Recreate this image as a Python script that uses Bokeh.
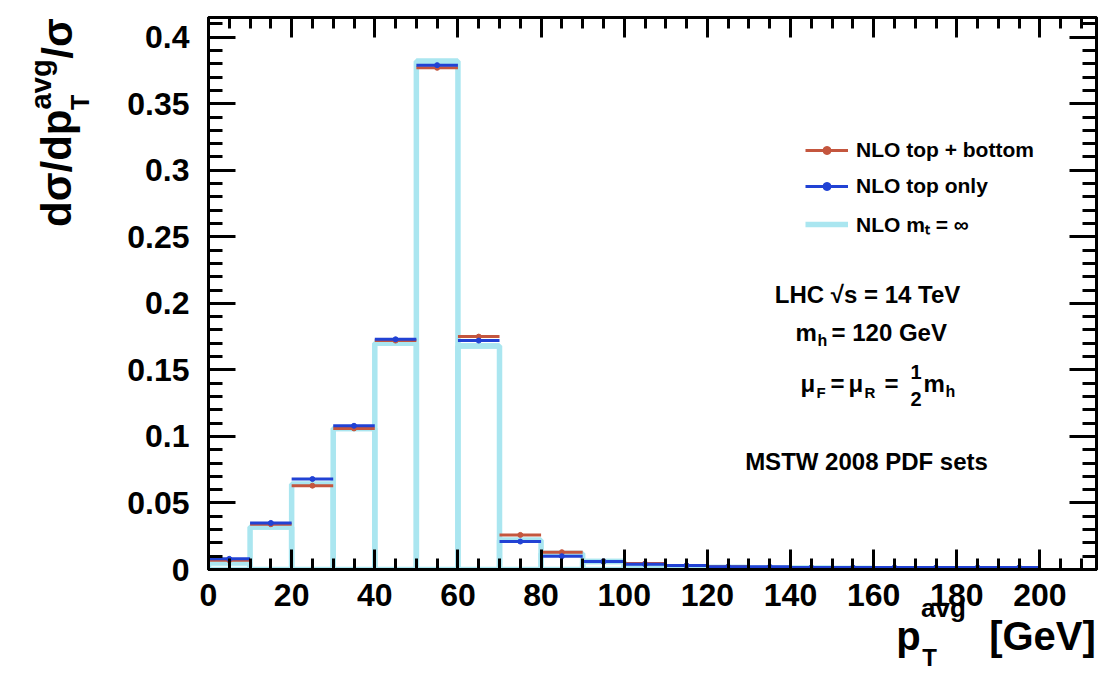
from bokeh.plotting import figure
from bokeh.models import (ColumnDataSource, LinearAxis, Range1d, SingleIntervalTicker, FixedTicker,
                          CustomJSTickFormatter, Label, Legend, LegendItem)
from bokeh.embed import file_html
from bokeh.resources import INLINE

# ---------------- data ----------------
bin_lo = [0, 10, 20, 30, 40, 50, 60, 70, 80, 90, 100, 110, 120, 130, 140, 150, 160, 170, 180, 190]
bin_hi = [10, 20, 30, 40, 50, 60, 70, 80, 90, 100, 110, 120, 130, 140, 150, 160, 170, 180, 190, 200]
nlo_top_bottom = [0.007, 0.034, 0.063, 0.106, 0.172, 0.377, 0.175, 0.026, 0.013, 0.006,
                  0.0045, 0.003, 0.002, 0.0015, 0.0012, 0.001, 0.001, 0.001, 0.001, 0.001]
nlo_top_only = [0.008, 0.035, 0.068, 0.108, 0.173, 0.379, 0.172, 0.021, 0.010, 0.006,
                0.004, 0.003, 0.002, 0.002, 0.0015, 0.0015, 0.0015, 0.0015, 0.0015, 0.0015]
nlo_mt_inf = [0.005, 0.032, 0.064, 0.106, 0.170, 0.382, 0.168, 0.022, 0.012, 0.006,
              0.003, 0.002, 0.0015, 0.001, 0.001, 0.0008, 0.0006, 0.0005, 0.0004, 0.0003]
bin_mid = [(a + b) / 2 for a, b in zip(bin_lo, bin_hi)]

series_labels = ["NLO top + bottom", "NLO top only", "NLO m\u209c = \u221e"]

XMIN, XMAX = 0, 213.6
YMIN, YMAX = 0, 0.4148

# frame placement in pixels
FX0, FX1, FY0, FY1 = 208, 1096, 17, 570
W, H = 1118, 673

RED = "#c4563e"
BLUE = "#2142d4"
CYAN = "#aae6f0"
FONT = "Liberation Sans"


def dx(px):
    return XMIN + (px - FX0) / (FX1 - FX0) * (XMAX - XMIN)


def dy(py):
    return YMIN + (FY1 - py) / (FY1 - FY0) * (YMAX - YMIN)


p = figure(width=W, height=H, x_range=Range1d(XMIN, XMAX), y_range=Range1d(YMIN, YMAX),
           output_backend="svg", toolbar_location=None,
           min_border_left=FX0, min_border_right=W - FX1,
           min_border_top=FY0, min_border_bottom=H - FY1)
p.grid.visible = False
p.outline_line_color = "black"
p.outline_line_width = 3
p.background_fill_color = "white"
p.border_fill_color = "white"

src = ColumnDataSource(dict(lo=bin_lo, hi=bin_hi, mid=bin_mid, tb=nlo_top_bottom,
                            to=nlo_top_only, inf=nlo_mt_inf))

# m_t = infinity histogram (outlined boxes)
p.quad(left="lo", right="hi", bottom=0, top="inf", source=src,
       fill_color=None, line_color=CYAN, line_width=5.5)
cyan_top = p.segment(x0="lo", x1="hi", y0="inf", y1="inf", source=src,
                     line_color=CYAN, line_width=5.5)

red_seg = p.segment(x0="lo", x1="hi", y0="tb", y1="tb", source=src,
                    line_color=RED, line_width=3)
red_pts = p.scatter(x="mid", y="tb", source=src, marker="circle", size=5,
                    fill_color=RED, line_color=RED)
blue_seg = p.segment(x0="lo", x1="hi", y0="to", y1="to", source=src,
                     line_color=BLUE, line_width=3)
blue_pts = p.scatter(x="mid", y="to", source=src, marker="circle", size=5,
                     fill_color=BLUE, line_color=BLUE)

# ---------------- axes ----------------
bottom_ax = p.below[0]
left_ax = p.left[0]
bottom_ax.ticker = SingleIntervalTicker(interval=20, num_minor_ticks=4)
left_ax.ticker = SingleIntervalTicker(interval=0.05, num_minor_ticks=5)
left_ax.formatter = CustomJSTickFormatter(code="return (Math.round(tick*1000)/1000).toString();")

top_ax = LinearAxis(ticker=SingleIntervalTicker(interval=20, num_minor_ticks=4))
right_ax = LinearAxis(ticker=SingleIntervalTicker(interval=0.05, num_minor_ticks=5))
p.add_layout(top_ax, "above")
p.add_layout(right_ax, "right")

for ax in [bottom_ax, top_ax]:
    ax.major_tick_in = 20
    ax.major_tick_out = 0
    ax.minor_tick_in = 11
    ax.minor_tick_out = 0
for ax in [left_ax, right_ax]:
    ax.major_tick_in = 27
    ax.major_tick_out = 0
    ax.minor_tick_in = 14
    ax.minor_tick_out = 0
for ax in [bottom_ax, top_ax, left_ax, right_ax]:
    ax.axis_line_color = "black"
    ax.axis_line_width = 3
    ax.major_tick_line_width = 3
    ax.minor_tick_line_width = 3
    ax.major_tick_line_color = "black"
    ax.minor_tick_line_color = "black"
    ax.major_label_text_font = FONT
    ax.major_label_text_font_style = "bold"
    ax.major_label_text_font_size = "32px"
    ax.major_label_text_color = "black"
for ax in [top_ax, right_ax]:
    ax.major_label_text_color = None
    ax.major_label_text_font_size = "8px"
    ax.major_label_standoff = 0
bottom_ax.major_label_standoff = 14
left_ax.major_label_standoff = 19


# ---------------- axis titles (pieces as label-only axes, for sub/superscripts) ----------------
def title_piece(place, positions, texts, size, standoff, orientation="horizontal"):
    ax = LinearAxis(
        ticker=FixedTicker(ticks=positions, minor_ticks=[]),
        formatter=CustomJSTickFormatter(
            args=dict(tk=positions, lb=texts),
            code=("let b = 0;"
                  "for (let i = 1; i < tk.length; i++) {"
                  "  if (Math.abs(tick - tk[i]) < Math.abs(tick - tk[b])) b = i; }"
                  "return lb[b];")))
    ax.axis_line_color = None
    ax.major_tick_line_color = None
    ax.minor_tick_line_color = None
    ax.major_tick_in = 0
    ax.major_tick_out = 0
    ax.minor_tick_in = 0
    ax.minor_tick_out = 0
    ax.major_label_standoff = standoff
    ax.major_label_orientation = orientation
    ax.major_label_text_font = FONT
    ax.major_label_text_font_style = "bold"
    ax.major_label_text_font_size = f"{size}px"
    ax.major_label_text_color = "black"
    p.add_layout(ax, place)


# x title: p_T^avg [GeV]
title_piece("below", [dx(943)], ["avg"], 26, -16)
title_piece("below", [dx(908), dx(1042)], ["p", "[GeV]"], 40, -12)
title_piece("below", [dx(929)], ["T"], 24, -17)

# y title: dσ/dp_T^avg/σ
title_piece("left", [dy(102)], ["T"], 25, 30, "parallel")
title_piece("left", [dy(168), dy(38)], ["d\u03c3/dp", "/\u03c3"], 42, -17, "parallel")
title_piece("left", [dy(84)], ["avg"], 29, -27, "parallel")

# ---------------- legend ----------------
legend = Legend(items=[
    LegendItem(label=series_labels[0], renderers=[red_seg, red_pts]),
    LegendItem(label=series_labels[1], renderers=[blue_seg, blue_pts]),
    LegendItem(label=series_labels[2], renderers=[cyan_top]),
], location=(597, 331), orientation="vertical")
legend.border_line_color = None
legend.background_fill_alpha = 0
legend.padding = 0
legend.margin = 0
legend.spacing = 12
legend.glyph_width = 43
legend.glyph_height = 20
legend.label_height = 20
legend.label_standoff = 8
legend.label_text_font = FONT
legend.label_text_font_style = "bold"
legend.label_text_font_size = "21px"
legend.label_text_color = "black"
p.add_layout(legend, "center")


def lab(text, px, py, size, style="bold", align="left"):
    p.add_layout(Label(x=dx(px), y=dy(py), text=text, text_font=FONT,
                       text_font_style=style, text_font_size=f"{size}px",
                       text_align=align, text_baseline="alphabetic",
                       text_color="black"))


# ---------------- annotation block ----------------
lab("LHC \u221as = 14 TeV", 867, 295, 24, align="center")
lab("m", 795, 333, 24)
lab("h", 817, 341, 16)
lab("= 120 GeV", 831, 333, 24)
lab("\u03bc", 800, 384, 24)
lab("F", 816, 393, 15)
lab("=", 830, 384, 24)
lab("\u03bc", 848, 384, 24)
lab("R", 864, 393, 15)
lab("=", 884, 384, 24)
lab("1", 910, 372, 20)
lab("2", 910, 399, 20)
lab("m", 923, 384, 24)
lab("h", 945, 392, 16)
lab("MSTW 2008 PDF sets", 866, 462, 24, align="center")

open("out.html", "w").write(file_html(p, INLINE))
